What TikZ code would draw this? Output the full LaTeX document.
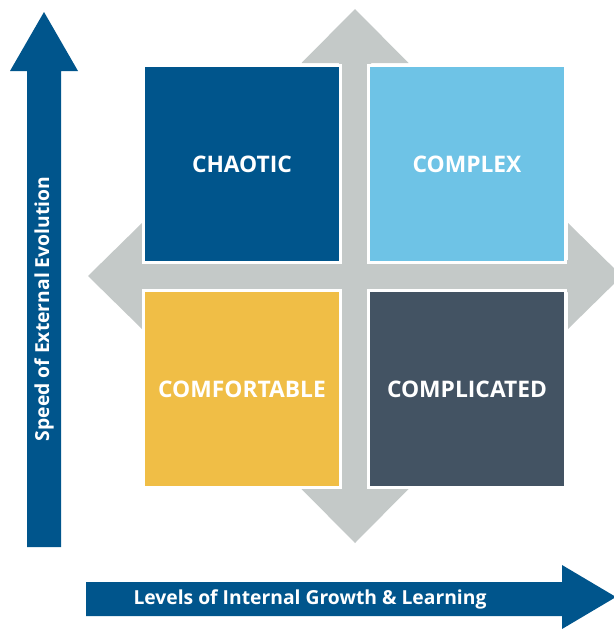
\documentclass[tikz,border=0pt]{standalone}
\usepackage{fontspec}
\setmainfont{Open Sans}
\usetikzlibrary{positioning}
\definecolor{navy}{RGB}{0,85,140}
\definecolor{sky}{RGB}{110,195,230}
\definecolor{mustard}{RGB}{240,190,70}
\definecolor{slate}{RGB}{67,83,99}
\definecolor{crossgray}{RGB}{196,201,200}

\begin{document}
\begin{tikzpicture}[x=1pt, y=-1pt,
    quad/.style={draw=white, line width=3pt, minimum size=197pt, outer sep=0pt,
      text=white, font=\bfseries\fontsize{22.8}{25}\selectfont},
    axislabel/.style={text=white, font=\bfseries\fontsize{19.3}{21}\selectfont}]
        \useasboundingbox (0,0) rectangle (613,629);

        % cross %
        \fill[crossgray] (355,9) -- (408.5,63) -- (371,63) -- (371,260) -- (568,260) -- (568,223)
          -- (622,276) -- (568,329) -- (568,292) -- (371,292) -- (371,489) -- (408.5,489)
          -- (355,543) -- (301.5,489) -- (339,489) -- (339,292) -- (142,292) -- (142,329)
          -- (88,276) -- (142,223) -- (142,260) -- (339,260) -- (339,63) -- (301.5,63) -- cycle;

        % nodes %
        \node[quad, fill=navy] (chaotic) at (242,164) {CHAOTIC};
        \node[quad, fill=sky, right=28pt of chaotic] (complex) {COMPLEX};
        \node[quad, fill=mustard, below=28pt of chaotic] (comfortable) {COMFORTABLE};
        \node[quad, fill=slate, right=28pt of comfortable] (complicated) {COMPLICATED};

        % axes %
        \fill[navy] (44,12) -- (78,71) -- (61,71) -- (61,547) -- (27,547) -- (27,71) -- (10,71) -- cycle;
        \fill[navy] (86,582) -- (562,582) -- (562,565) -- (616,597) -- (562,629) -- (562,616) -- (86,616) -- cycle;
        \node[axislabel, rotate=90] (speed) at (44,309) {Speed of External Evolution};
        \node[axislabel] (levels) at (310,599) {Levels of Internal Growth \& Learning};
      \end{tikzpicture}
\end{document}
